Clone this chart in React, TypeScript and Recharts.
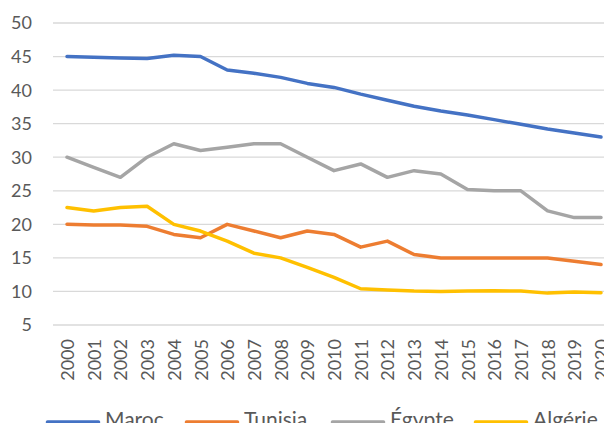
import React from 'react';
import { LineChart, Line, XAxis, YAxis, CartesianGrid } from 'recharts';

const years = ['2000', '2001', '2002', '2003', '2004', '2005', '2006', '2007', '2008', '2009', '2010',
  '2011', '2012', '2013', '2014', '2015', '2016', '2017', '2018', '2019', '2020'];

const maroc = [45, 44.9, 44.8, 44.7, 45.2, 45, 43, 42.5, 41.9, 41, 40.4, 39.4, 38.5, 37.6, 36.9, 36.3, 35.6, 34.9, 34.2, 33.6, 33.0];
const tunisia = [20, 19.9, 19.9, 19.7, 18.5, 18, 20, 19, 18, 19, 18.5, 16.6, 17.5, 15.5, 15, 15, 15, 15, 15, 14.5, 14];
const egypte = [30, 28.5, 27, 30, 32, 31, 31.5, 32, 32, 30, 28, 29, 27, 28, 27.5, 25.2, 25, 25, 22, 21, 21];
const algerie = [22.5, 22, 22.5, 22.7, 20, 19, 17.5, 15.7, 15, 13.6, 12.1, 10.4, 10.2, 10.05, 10, 10.05, 10.1, 10.05, 9.75, 9.9, 9.8];

const yTicks = [5, 10, 15, 20, 25, 30, 35, 40, 45, 50];

const seriesList = [
  { key: 'Maroc', color: '#4472C4' },
  { key: 'Tunisia', color: '#ED7D31' },
  { key: 'Égypte', color: '#A5A5A5' },
  { key: 'Algérie', color: '#FFC000' },
];

const data = years.map((year, i) => ({
  year,
  Maroc: maroc[i],
  Tunisia: tunisia[i],
  'Égypte': egypte[i],
  'Algérie': algerie[i],
}));

const FONT = 'Lato, "Open Sans", sans-serif';
const TEXT = '#595959';

const RotatedTick = (props: any) => {
  const { x, y, payload } = props;
  return (
    <text
      x={x}
      y={y}
      transform={`rotate(-90, ${x}, ${y})`}
      textAnchor="end"
      dominantBaseline="central"
      fill={TEXT}
      fontSize={18}
      fontFamily={FONT}
    >
      {payload.value}
    </text>
  );
};

// legend as svg text at the bottom of the chart
const LEGEND_X = [46, 185, 331, 474];
const LEGEND_Y = 422;

const ChartLegend = () => (
  <svg width={612} height={431} style={{ position: 'absolute', left: 0, top: 0, pointerEvents: 'none' }}>
    {seriesList.map((s, i) => (
      <g key={s.key}>
        <line
          x1={LEGEND_X[i] + 1.5}
          y1={LEGEND_Y}
          x2={LEGEND_X[i] + 52.5}
          y2={LEGEND_Y}
          stroke={s.color}
          strokeWidth={3.5}
          strokeLinecap="round"
        />
        <text x={LEGEND_X[i] + 59} y={427} fill={TEXT} fontSize={21} fontFamily={FONT}>
          {s.key}
        </text>
      </g>
    ))}
  </svg>
);

export default function App() {
  return (
    <div style={{ margin: -8, position: 'relative', width: 612, height: 431, background: '#fff', overflow: 'hidden' }}>
      <LineChart
        width={612}
        height={431}
        data={data}
        margin={{ top: 23, right: 0, bottom: 36, left: 0 }}
        style={{ fontFamily: FONT }}
      >
        <CartesianGrid vertical={false} stroke="#D9D9D9" strokeWidth={1.3} />
        <XAxis
          dataKey="year"
          axisLine={false}
          tickLine={false}
          tickSize={0}
          tickMargin={14}
          interval={0}
          height={70}
          padding={{ left: 14, right: 11 }}
          tick={<RotatedTick />}
        />
        <YAxis
          domain={[5, 50]}
          ticks={yTicks}
          width={53}
          axisLine={false}
          tickLine={false}
          tickSize={0}
          tickMargin={21}
          tick={{ fill: TEXT, fontSize: 18, fontFamily: FONT }}
        />
        {seriesList.map((s) => (
          <Line
            key={s.key}
            type="linear"
            dataKey={s.key}
            stroke={s.color}
            strokeWidth={3.5}
            strokeLinecap="round"
            strokeLinejoin="round"
            dot={false}
            activeDot={false}
            isAnimationActive={false}
          />
        ))}
      </LineChart>
      <ChartLegend />
    </div>
  );
}
